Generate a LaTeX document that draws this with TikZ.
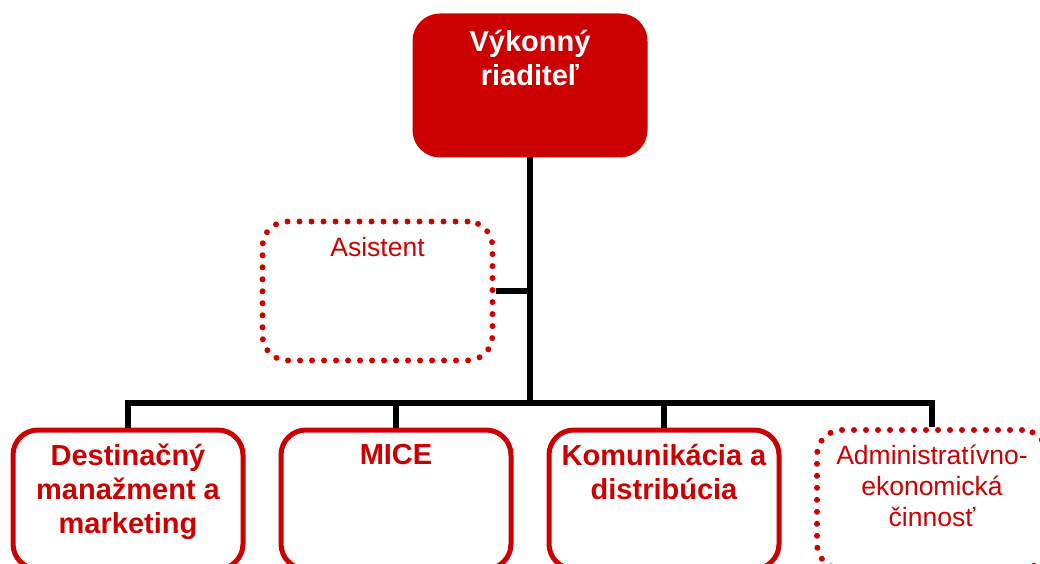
\documentclass[tikz,border=0pt]{standalone}
\usepackage{fontspec}
\setmainfont{Liberation Sans}
\definecolor{tred}{RGB}{204,0,0}
\newcommand\unitbold{\fontsize{29}{34}\selectfont\bfseries}
\newcommand\unitplain{\fontsize{26.5}{31}\selectfont}
\newcommand\boxlines[1]{\parbox[c][111pt][t]{220pt}{\centering #1}}
\tikzset{
    unit/.style={rectangle, rounded corners=25pt, draw=tred, line width=5pt,
        minimum width=230pt, minimum height=139pt, inner xsep=5pt, inner ysep=14pt},
    solidunit/.style={unit, text=tred, font=\unitbold},
    dotunit/.style={unit, text=tred, font=\unitplain, line width=6pt,
        dash pattern=on 0pt off 12pt, line cap=round},
    headunit/.style={unit, fill=tred, text=white, font=\unitbold},
    link/.style={line width=5.5pt, black}
}
\begin{document}
\begin{tikzpicture}[x=1pt, y=-1pt]
            \useasboundingbox (0,0) rectangle (1040,564);

            \node[headunit] (ceo) at (530,85.5) {\boxlines{Výkonný\\ riaditeľ}};
            \node[dotunit] (asist) at (377.5,291) {\boxlines{\vspace*{2pt}Asistent}};

            \node[solidunit] (dm) at (128,499.5) {\boxlines{Destinačný\\ manažment a\\ marketing}};
            \node[solidunit] (mice) at (396,499.5) {\boxlines{MICE}};
            \node[solidunit] (kom) at (664,499.5) {\boxlines{Komunikácia a\\ distribúcia}};
            \node[dotunit] (adm) at (932,499.5) {\boxlines{\vspace*{1pt}Administratívno-\\ ekonomická\\ činnosť}};

            \coordinate (bus) at (530,403);

            \draw[link] (ceo.south) -- (bus);
            \draw[link] (asist.east) -- (asist.east -| ceo.south);
            \draw[link] (dm.north) |- (bus) -| (adm.north);
            \draw[link] (mice.north) -- (mice.north |- bus);
            \draw[link] (kom.north) -- (kom.north |- bus);

        \end{tikzpicture}
\end{document}
